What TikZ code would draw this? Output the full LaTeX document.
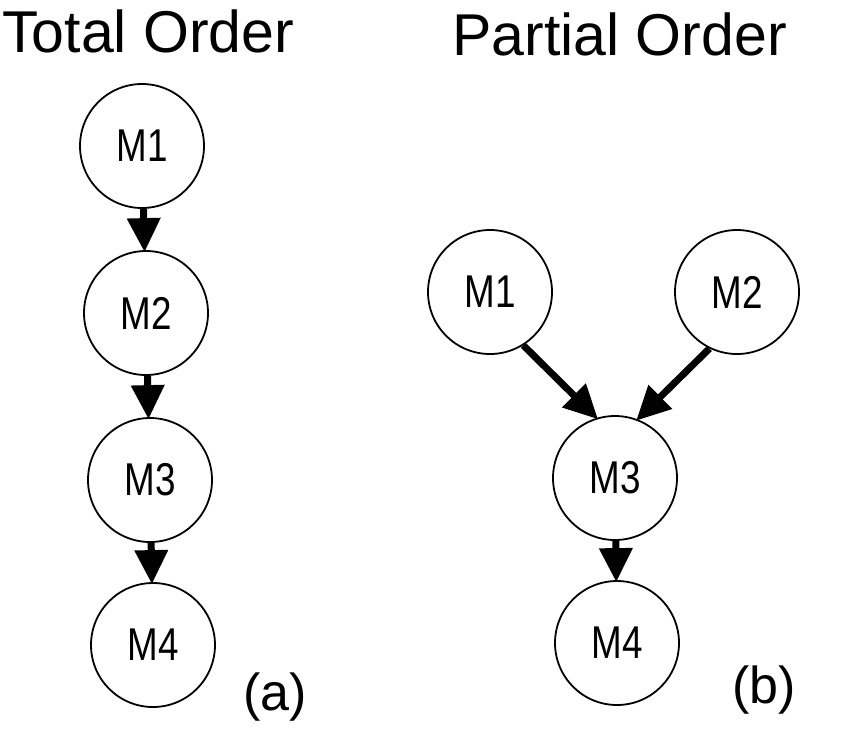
\documentclass[tikz,border=0pt]{standalone}
\usepackage{fontspec}
\setmainfont{Liberation Sans}
\newfontfamily\msgfont[FakeStretch=0.8]{Liberation Sans}
\usetikzlibrary{
    arrows.meta,
    positioning
}

\begin{document}
\begin{tikzpicture}[x=0.5pt, y=-0.5pt,
        msg/.style={draw, circle, line width=0.9pt, minimum size=62pt, inner sep=0pt,
                    font=\msgfont\fontsize{23}{23}\selectfont},
        order/.style={line width=3.5pt, -{Triangle[length=17pt, width=16pt]}, shorten >=-1pt},
        caption/.style={inner sep=0pt, font=\fontsize{29.5}{29.5}\selectfont}]
    \useasboundingbox (0, 0) rectangle (850, 729);

    % (a) total order
    \node[caption, anchor=base west] (totaltitle) at (2, 52) {Total Order};
    \node[msg] (lm1) at (142, 146) {M1};
    \node[msg] (lm2) at (146, 313) {M2};
    \node[msg] (lm3) at (150, 480) {M3};
    \node[msg] (lm4) at (153, 645) {M4};
    \node[caption, font=\fontsize{26}{26}\selectfont] (capa) at (275, 697) {(a)};

    \draw[order] (lm1) -- (lm2);
    \draw[order] (lm2) -- (lm3);
    \draw[order] (lm3) -- (lm4);

    % (b) partial order
    \node[caption, anchor=base west] (partialtitle) at (452, 55) {Partial Order};
    \node[msg] (rm1) at (490, 292) {M1};
    \node[msg] (rm2) at (737, 292) {M2};
    \node[msg] (rm3) at (615, 478) {M3};
    \node[msg] (rm4) at (617, 643) {M4};
    \node[caption, font=\fontsize{26}{26}\selectfont] (capb) at (764, 690) {(b)};

    \draw[order] (rm1.-58) -- (rm3.107);
    \draw[order] (rm2.-116) -- (rm3.69);
    \draw[order] (rm3) -- (rm4);
\end{tikzpicture}
\end{document}
